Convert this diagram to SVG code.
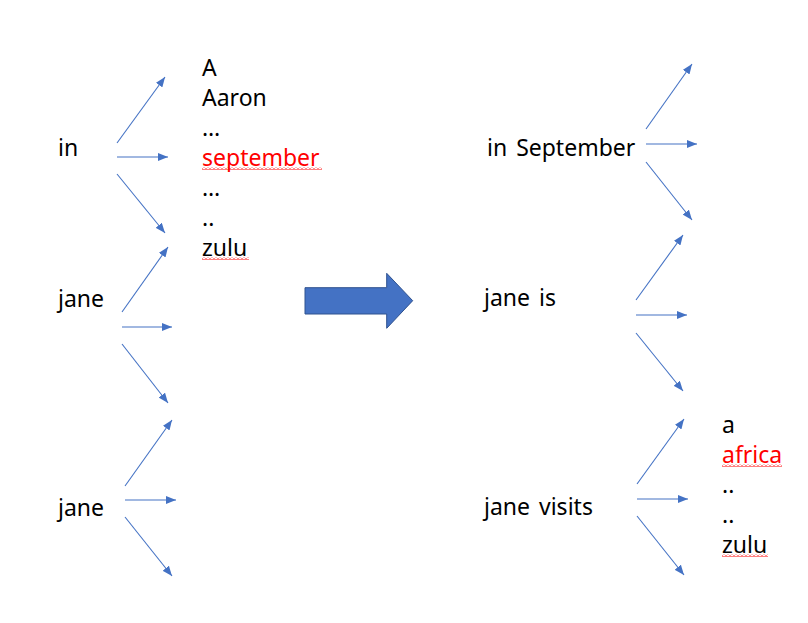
<svg xmlns="http://www.w3.org/2000/svg" width="808" height="623" viewBox="0 0 808 623">
  <style>
    text { font-family: "Noto Sans", "Noto Sans CJK KR", sans-serif; font-size: 23px; fill: #000; word-spacing: 3px; }
    .red { fill: #FF0000; }
    .conn line { stroke: #4472C4; stroke-width: 1.1; marker-end: url(#ah); }
    .sq { fill: url(#wave); }
  </style>
  <defs>
    <marker id="ah" markerUnits="userSpaceOnUse" markerWidth="11" markerHeight="8" refX="10" refY="4" orient="auto">
      <path d="M0,0 L10,4 L0,8 z" fill="#4472C4"/>
    </marker>
    <pattern id="wave" patternUnits="userSpaceOnUse" width="4" height="3">
      <path d="M0,2.5 L2,0.5 L4,2.5" stroke="#FF0000" stroke-width="1" fill="none"/>
    </pattern>
  </defs>
  <rect width="808" height="623" fill="#fff"/>

  <g id="node-in"><text x="58" y="156">in</text></g>
  <g id="node-jane1"><text x="58" y="307">jane</text></g>
  <g id="node-jane2"><text x="58" y="516">jane</text></g>

  <g id="vocab-left">
    <text x="202" y="76">A</text>
    <text x="202" y="106">Aaron</text>
    <text x="202" y="136">…</text>
    <text x="202" y="166" class="red">september</text>
    <text x="202" y="196">…</text>
    <text x="202" y="226">..</text>
    <text x="202" y="256">zulu</text>
    <rect class="sq" x="202" y="167" width="120" height="3"/>
    <rect class="sq" x="202" y="257" width="47" height="3"/>
  </g>

  <g id="big-arrow">
    <path d="M305,287.7 H386.7 V273.3 L412.7,300.7 L386.7,328.3 V314 H305 Z" fill="#4472C4" stroke="#2F528F" stroke-width="1"/>
  </g>

  <g id="node-in-september"><text x="487" y="156">in September</text></g>
  <g id="node-jane-is"><text x="484" y="306">jane is</text></g>
  <g id="node-jane-visits"><text x="484" y="515">jane visits</text></g>

  <g id="vocab-right">
    <text x="722" y="433">a</text>
    <text x="722" y="463" class="red">africa</text>
    <text x="722" y="493">..</text>
    <text x="722" y="523">..</text>
    <text x="722" y="553">zulu</text>
    <rect class="sq" x="722" y="464" width="60" height="3"/>
    <rect class="sq" x="722" y="554" width="46" height="3"/>
  </g>

  <g id="connectors" class="conn">
    <line x1="117" y1="143" x2="165" y2="77"/>
    <line x1="117" y1="157" x2="168" y2="157"/>
    <line x1="117" y1="174" x2="165" y2="233"/>

    <line x1="122" y1="312" x2="168" y2="247"/>
    <line x1="122" y1="327" x2="172" y2="327"/>
    <line x1="122" y1="344" x2="168" y2="403"/>

    <line x1="125" y1="486" x2="172" y2="420"/>
    <line x1="125" y1="500" x2="176" y2="500"/>
    <line x1="125" y1="517" x2="172" y2="576"/>

    <line x1="646" y1="129" x2="692" y2="64"/>
    <line x1="646" y1="144" x2="697" y2="144"/>
    <line x1="646" y1="162" x2="692" y2="220"/>

    <line x1="636" y1="300" x2="683" y2="235"/>
    <line x1="636" y1="315" x2="687" y2="315"/>
    <line x1="636" y1="333" x2="683" y2="391"/>

    <line x1="637" y1="484" x2="684" y2="419"/>
    <line x1="637" y1="499" x2="688" y2="499"/>
    <line x1="637" y1="516" x2="684" y2="575"/>
  </g>
</svg>
